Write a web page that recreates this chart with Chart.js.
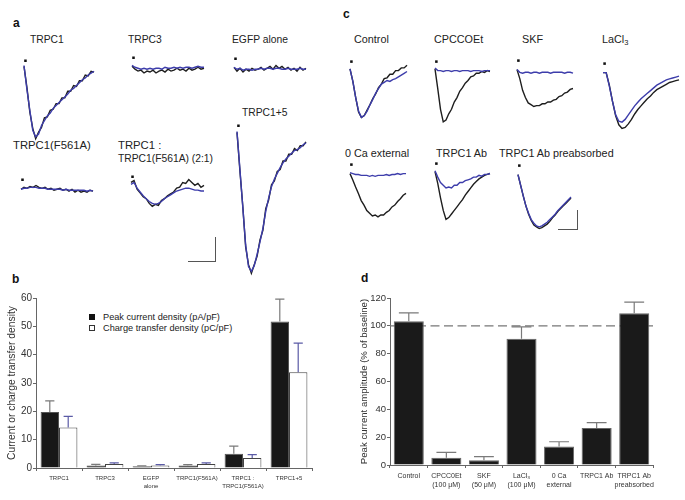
<!DOCTYPE html>
<html>
<head>
<meta charset="utf-8">
<script src="https://cdn.jsdelivr.net/npm/chart.js"></script>
<style>
  body { margin: 0; background: #fff; }
  #fig { position: relative; width: 685px; height: 500px; overflow: hidden;
         font-family: "Liberation Sans", Arial, sans-serif; color: #222; }
  #fig canvas { position: absolute; }
  .t { position: absolute; white-space: nowrap; line-height: 1; }
  .lbl { font-weight: bold; font-size: 12px; color: #111; }
  .ta { font-size: 10.3px; }
  .tc { font-size: 10.8px; }
  .sb { position: absolute; background: #555; }
  .sw { position: absolute; width: 6px; height: 6px; box-sizing: border-box; }
  sub { font-size: 70%; vertical-align: -2px; line-height: 0; }
</style>
</head>
<body>
<div id="fig">
  <!-- panel letters -->
  <div class="t lbl" style="left:13px;top:17px">a</div>
  <div class="t lbl" style="left:343px;top:8px">c</div>
  <div class="t lbl" style="left:12px;top:273px">b</div>
  <div class="t lbl" style="left:361px;top:272px">d</div>

  <!-- panel a titles -->
  <div class="t ta" style="left:30px;top:34.6px">TRPC1</div>
  <div class="t ta" style="left:128px;top:34.6px">TRPC3</div>
  <div class="t ta" style="left:232px;top:34.6px">EGFP alone</div>
  <div class="t ta" style="left:242px;top:108px">TRPC1+5</div>
  <div class="t" style="left:13px;top:140px;font-size:11.3px">TRPC1(F561A)</div>
  <div class="t" style="left:118px;top:140px;font-size:11.3px">TRPC1 :</div>
  <div class="t ta" style="left:118px;top:154.3px">TRPC1(F561A) (2:1)</div>

  <!-- panel c titles -->
  <div class="t tc" style="left:354px;top:33.5px">Control</div>
  <div class="t tc" style="left:434px;top:33.5px">CPCCOEt</div>
  <div class="t tc" style="left:522px;top:33.5px">SKF</div>
  <div class="t tc" style="left:602px;top:33.5px">LaCl<sub>3</sub></div>
  <div class="t tc" style="left:345px;top:148.2px">0 Ca external</div>
  <div class="t tc" style="left:436px;top:148.2px">TRPC1 Ab</div>
  <div class="t tc" style="left:499px;top:148.2px">TRPC1 Ab preabsorbed</div>

  <!-- scale bars -->
  <div class="sb" style="left:215px;top:237px;width:1px;height:25px"></div>
  <div class="sb" style="left:188px;top:261px;width:28px;height:1px"></div>
  <div class="sb" style="left:577px;top:210px;width:1px;height:20px"></div>
  <div class="sb" style="left:558px;top:229px;width:20px;height:1px"></div>

  <!-- panel b legend -->
  <div class="sw" style="left:89px;top:313.5px;background:#111"></div>
  <div class="t" style="left:103px;top:313.2px;font-size:9.2px">Peak current density (pA/pF)</div>
  <div class="sw" style="left:89px;top:324.5px;background:#fff;border:1px solid #333"></div>
  <div class="t" style="left:103px;top:324.2px;font-size:9.2px">Charge transfer density (pC/pF)</div>
</div>

<script>
// ---- panel a traces (current, arbitrary units; black = before, blue = after) ----
const aTRPC1Black = [4, -18, -44, -61, -72, -65, -60, -50, -49, -42, -41, -35, -35, -29, -29, -22, -22, -16, -17, -11, -11, -5, -6, -1, -2];
const aTRPC1Blue = [5, -20, -42, -63, -70, -67, -58, -53, -48, -45, -40, -37, -34, -31, -28, -25, -21, -19, -16, -13, -10, -8, -5, -3, -1];
const aTRPC3Black = [1, -2, -4, -3, -6, -4, -5, -3, -6, -4, -3, -5, -2, -4, -3, -1, -3, -2, -4, -1, -3, -2, 0, -2, -1];
const aTRPC3Blue = [2, 0, -1, -2, -1, -2, -1, -2, -1, -1, -2, 0, -1, -1, 0, -1, 0, -1, 0, 0, -1, 0, 1, 0, 0];
const aEGFPBlack = [1, -3, 0, -4, -1, -3, 0, -2, -1, 1, -2, 0, 2, -1, 3, 0, 2, -1, 1, -2, 0, -3, 1, -2, 0];
const aEGFPBlue = [1, -1, 0, -2, -1, -1, -2, -1, -1, 0, -1, 0, 0, -1, 0, 0, -1, -1, 0, -1, -1, -1, 0, -1, -1];
const aTRPC15Black = [3, -37, -74, -117, -136, -145, -136, -127, -110, -100, -77, -68, -52, -48, -38, -36, -27, -27, -20, -20, -14, -16, -11, -11, -7];
const aTRPC15Blue = [4, -35, -75, -115, -138, -143, -137, -125, -112, -98, -80, -66, -54, -46, -40, -34, -29, -25, -22, -19, -16, -15, -13, -10, -8];
const aF561ABlack = [0, 2, 1, 3, 2, 4, 2, 1, 2, 0, 1, -1, 0, 1, -1, 0, -2, 0, -3, -1, -3, -2, -3, -1, -2];
const aF561ABlue = [0, 1, 1, 2, 2, 2, 1, 1, 1, 0, 0, 0, 0, 0, -1, 0, -1, -1, -1, -1, -1, -1, -2, -1, -2];
const aMixBlack = [4, 6, -3, -7, -11, -13, -18, -21, -19, -20, -15, -13, -10, -8, -6, -2, -1, 4, 3, 7, 4, 1, 3, -1, 1];
const aMixBlue = [2, 4, -2, -6, -10, -13, -16, -18, -19, -18, -16, -13, -11, -9, -7, -5, -4, -3, -2, -2, -3, -4, -4, -5, -5];

// ---- panel c traces ----
const cControlBlack = [2, -12, -30, -46, -52, -50, -44, -38, -31, -26, -19, -15, -9, -8, -4, -4, 0, 0, 3, 3, 6];
const cControlBlue = [2, -12, -30, -45, -52, -50, -45, -38, -32, -25, -20, -15, -13, -11, -12, -10, -9, -7, -5, -3, -1];
const cCPCCOEtBlack = [2, -20, -43, -57, -55, -48, -43, -35, -30, -23, -19, -14, -11, -7, -6, -3, -3, -1, -2, 0, -1];
const cCPCCOEtBlue = [3, 0, 0, -1, 0, 0, -1, 0, 0, -1, 0, 0, 0, -1, 0, 0, 0, -1, 0, 0, 0];
const cSKFBlack = [0, -10, -23, -31, -37, -39, -41, -40, -40, -38, -38, -36, -36, -34, -33, -30, -29, -26, -25, -22, -21];
const cSKFBlue = [0, -3, -4, -3, -3, -4, -3, -3, -4, -3, -3, -3, -4, -3, -3, -3, -3, -4, -3, -3, -4];
const cLaCl3Black = [0, 0, -14, -32, -48, -58, -62, -61, -57, -52, -46, -41, -37, -33, -29, -26, -22, -19, -17, -15, -13, -11, -10, -9, -8];
const cLaCl3Blue = [0, 0, -15, -32, -47, -54, -55, -52, -47, -42, -37, -33, -29, -26, -23, -20, -17, -14, -12, -10, -8, -7, -6, -5, -4];
const c0CaBlack = [0, -7, -15, -22, -30, -35, -41, -44, -47, -46, -48, -46, -46, -43, -41, -37, -35, -31, -28, -24, -22];
const c0CaBlue = [1, 0, -1, -1, -2, -2, -2, -3, -2, -3, -2, -2, -2, -1, -2, -1, -1, 0, -1, 0, 0];
const cAbBlack = [1, -12, -28, -42, -52, -50, -46, -42, -38, -34, -30, -25, -21, -17, -13, -10, -7, -5, -3, -2, -1];
const cAbBlue = [2, -5, -11, -14, -17, -16, -17, -14, -14, -11, -11, -9, -8, -7, -5, -5, -3, -4, -2, -2, -1];
const cPreBlack = [0, -12, -24, -35, -44, -51, -56, -58, -60, -59, -57, -55, -52, -48, -45, -41, -38, -35, -32, -29, -26];
const cPreBlue = [0, -12, -24, -35, -43, -50, -54, -57, -58, -57, -55, -53, -50, -47, -44, -40, -37, -34, -31, -28, -25];
const stimLevel = 10;

// ---- panel b ----
const bCategories = ['TRPC1', 'TRPC3', ['EGFP', 'alone'], 'TRPC1(F561A)', ['TRPC1 :', 'TRPC1(F561A)'], 'TRPC1+5'];
const bPeakCurrent = [19.8, 0.9, 0.6, 0.9, 5.0, 51.7];
const bPeakCurrentErr = [3.9, 0.4, 0.2, 0.3, 2.7, 7.9];
const bChargeTransfer = [14.3, 1.4, 0.9, 1.4, 3.5, 33.8];
const bChargeTransferErr = [3.9, 0.4, 0.3, 0.4, 1.2, 10.3];

// ---- panel d ----
const dCategories = ['Control', ['CPCC0Et', '(100 μM)'], ['SKF', '(50 μM)'], ['LaCl₃', '(100 μM)'], ['0 Ca', 'external'], 'TRPC1 Ab', ['TRPC1 Ab', 'preabsorbed']];
const dPeakAmplitude = [103.3, 5.2, 3.4, 90.8, 13.3, 26.5, 109];
const dPeakAmplitudeErr = [6, 3.9, 2.6, 8.5, 3.4, 4, 8];
const dBaseline = 100;

const FONT = '"Liberation Sans", Arial, sans-serif';
const BLACK = '#1e1e1e';
const BLUE = '#3d3dab';
Chart.defaults.font.family = FONT;

const fig = document.getElementById('fig');
function addCanvas(left, top, w, h) {
  const cv = document.createElement('canvas');
  cv.width = w; cv.height = h;
  cv.style.left = left + 'px'; cv.style.top = top + 'px';
  fig.appendChild(cv);
  return cv;
}

// one trace pair per little chart, 1 data unit per pixel
function drawTrace(t, yMin, yMax) {
  const cv = addCanvas(t.left, t.base - yMax, t.width, yMax - yMin);
  const pts = arr => arr.map((v, i) => ({ x: i, y: v }));
  new Chart(cv, {
    type: 'line',
    data: {
      datasets: [
        { type: 'scatter', data: [{ x: 0.5, y: stimLevel }], pointStyle: 'rect', pointRadius: 1.8,
          backgroundColor: '#111', borderWidth: 0, clip: false },
        { data: pts(t.blue), borderColor: BLUE, borderWidth: 1.4, pointRadius: 0, tension: 0, clip: false },
        { data: pts(t.black), borderColor: BLACK, borderWidth: 1.4, pointRadius: 0, tension: 0, clip: false }
      ]
    },
    options: {
      animation: false, responsive: false, events: [],
      layout: { padding: 0 },
      plugins: { legend: { display: false }, tooltip: { enabled: false } },
      scales: {
        x: { type: 'linear', display: false, min: 0, max: t.black.length - 1 },
        y: { display: false, min: yMin, max: yMax }
      }
    }
  });
}

[
  { black: aTRPC1Black, blue: aTRPC1Blue, left: 20, base: 67, width: 78 },
  { black: aTRPC3Black, blue: aTRPC3Blue, left: 128, base: 64, width: 80 },
  { black: aEGFPBlack, blue: aEGFPBlue, left: 230, base: 65, width: 80 },
  { black: aTRPC15Black, blue: aTRPC15Blue, left: 233, base: 132, width: 77 },
  { black: aF561ABlack, blue: aF561ABlue, left: 17, base: 186, width: 80 },
  { black: aMixBlack, blue: aMixBlue, left: 127, base: 183, width: 81 }
].forEach(t => drawTrace(t, -150, 15));

[
  { black: cControlBlack, blue: cControlBlue, left: 346, base: 68, width: 65 },
  { black: cCPCCOEtBlack, blue: cCPCCOEtBlue, left: 431, base: 68, width: 63 },
  { black: cSKFBlack, blue: cSKFBlue, left: 513, base: 67, width: 64 },
  { black: cLaCl3Black, blue: cLaCl3Blue, left: 599, base: 70, width: 84 },
  { black: c0CaBlack, blue: c0CaBlue, left: 346, base: 171, width: 64 },
  { black: cAbBlack, blue: cAbBlue, left: 431, base: 170, width: 63 },
  { black: cPreBlack, blue: cPreBlue, left: 514, base: 172, width: 61 }
].forEach(t => drawTrace(t, -66, 14));

// error bars: line up from bar top plus a cap
const errorBars = {
  id: 'errorBars',
  afterDatasetsDraw(chart, args, opts) {
    const ctx = chart.ctx;
    const y = chart.scales.y;
    chart.data.datasets.forEach((ds, i) => {
      if (!ds.errors) return;
      chart.getDatasetMeta(i).data.forEach((bar, j) => {
        const top = y.getPixelForValue(ds.data[j] + ds.errors[j]);
        const half = bar.width * opts.cap;
        ctx.save();
        ctx.strokeStyle = ds.errorColor;
        ctx.lineWidth = 1.2;
        ctx.beginPath();
        ctx.moveTo(bar.x, bar.y);
        ctx.lineTo(bar.x, top);
        ctx.moveTo(bar.x - half, top);
        ctx.lineTo(bar.x + half, top);
        ctx.stroke();
        ctx.restore();
      });
    });
  }
};

const baselineLine = {
  id: 'baselineLine',
  beforeDatasetsDraw(chart, args, opts) {
    if (opts.value == null) return;
    const { ctx, chartArea } = chart;
    const py = chart.scales.y.getPixelForValue(opts.value);
    ctx.save();
    ctx.setLineDash([9, 4.5]);
    ctx.strokeStyle = '#777';
    ctx.lineWidth = 1.3;
    ctx.beginPath();
    ctx.moveTo(chartArea.left, py);
    ctx.lineTo(chartArea.right, py);
    ctx.stroke();
    ctx.restore();
  }
};

function axisX(size, lh, pad, height) {
  return {
    grid: { display: true, drawOnChartArea: false, offset: true, tickLength: 3, color: '#666' },
    border: { color: '#666', width: 1 },
    ticks: { font: { size: size, lineHeight: lh }, color: '#333', padding: pad, maxRotation: 0, autoSkip: false },
    afterFit(s) { s.height = height; }
  };
}

// panel b
new Chart(addCanvas(0, 290, 330, 210), {
  type: 'bar',
  data: {
    labels: bCategories,
    datasets: [
      { label: 'Peak current density (pA/pF)', data: bPeakCurrent, errors: bPeakCurrentErr,
        backgroundColor: '#181818', borderColor: '#555', borderWidth: 1, errorColor: '#7a7a7a' },
      { label: 'Charge transfer density (pC/pF)', data: bChargeTransfer, errors: bChargeTransferErr,
        backgroundColor: '#fff', borderColor: '#444', borderWidth: 1, errorColor: '#5b5ba6' }
    ]
  },
  options: {
    animation: false, responsive: false, events: [],
    layout: { padding: { top: 8, right: 18, left: 0, bottom: 0 } },
    datasets: { bar: { categoryPercentage: 0.8, barPercentage: 1 } },
    plugins: { legend: { display: false }, tooltip: { enabled: false }, errorBars: { cap: 0.25 } },
    scales: {
      x: axisX(6, 1.4, 3, 32),
      y: {
        min: 0, max: 60,
        ticks: { stepSize: 5, callback: v => (v % 10 === 0 ? v : ''), font: { size: 10 }, color: '#333', padding: 1 },
        grid: { drawOnChartArea: false, tickLength: 3, color: '#666' },
        border: { color: '#666' },
        title: { display: true, text: 'Current or charge transfer density', font: { size: 10.3 }, color: '#333', padding: { top: 6.3, bottom: 0 } },
        afterFit(s) { s.width = 36; }
      }
    }
  },
  plugins: [errorBars]
});

// panel d
new Chart(addCanvas(340, 290, 345, 210), {
  type: 'bar',
  data: {
    labels: dCategories,
    datasets: [
      { label: 'Peak current amplitude', data: dPeakAmplitude, errors: dPeakAmplitudeErr,
        backgroundColor: '#1a1a1a', borderColor: '#666', borderWidth: 1, errorColor: '#7a7a7a' }
    ]
  },
  options: {
    animation: false, responsive: false, events: [],
    layout: { padding: { top: 8, right: 32, left: 0, bottom: 0 } },
    datasets: { bar: { categoryPercentage: 1, barPercentage: 0.8 } },
    plugins: { legend: { display: false }, tooltip: { enabled: false },
               errorBars: { cap: 0.33 }, baselineLine: { value: dBaseline } },
    scales: {
      x: axisX(7, 1.35, 3, 35),
      y: {
        min: 0, max: 120,
        ticks: { stepSize: 10, callback: v => (v % 20 === 0 ? v : ''), font: { size: 9.5 }, color: '#333', padding: 1 },
        grid: { drawOnChartArea: false, tickLength: 3, color: '#666' },
        border: { color: '#666' },
        title: { display: true, text: 'Peak current amplitude (% of baseline)', font: { size: 9.6 }, color: '#333', padding: { top: 18.3, bottom: 0 } },
        afterFit(s) { s.width = 50; }
      }
    }
  },
  plugins: [errorBars, baselineLine]
});
</script>
</body>
</html>
